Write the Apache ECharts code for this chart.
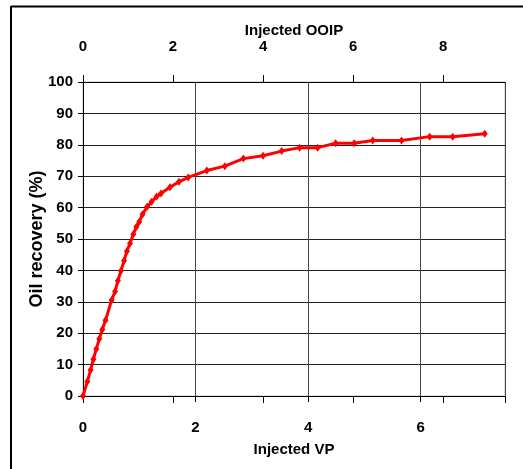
<!DOCTYPE html>
<html>
<head>
<meta charset="utf-8">
<script src="https://cdn.jsdelivr.net/npm/echarts@6/dist/echarts.min.js"></script>
<style>
  html, body { margin: 0; padding: 0; background: #fff; }
  #chart { width: 523px; height: 469px; }
</style>
</head>
<body>
<div id="chart"></div>
<script>
// Injected pore volumes (VP) and cumulative oil recovery (%)
const injectedVP = [0, 0.077, 0.136, 0.184, 0.237, 0.29, 0.343, 0.40, 0.51, 0.57,
  0.62, 0.675, 0.73, 0.78, 0.835, 0.894, 0.95, 1.0, 1.06, 1.14,
  1.22, 1.31, 1.385, 1.545, 1.705, 1.87, 2.2, 2.52, 2.85, 3.2,
  3.53, 3.85, 4.17, 4.49, 4.82, 5.15, 5.66, 6.16, 6.57, 7.14];
const oilRecovery = [0, 4.6, 8.3, 11.7, 15.0, 18.2, 21.2, 24.1, 30.6, 33.3,
  36.7, 39.9, 43.1, 46.1, 48.6, 51.5, 53.9, 55.5, 57.9, 60.3,
  61.9, 63.5, 64.5, 66.5, 68.2, 69.6, 71.8, 73.2, 75.6, 76.5,
  78.0, 79.1, 79.1, 80.5, 80.5, 81.4, 81.4, 82.6, 82.6, 83.5];

// Axis ranges and tick steps
const vpMax = 7.5, vpStep = 2;
const ooipPerVP = 1.25;              // secondary scale: OOIP = 1.25 x VP
const ooipMax = vpMax * ooipPerVP, ooipStep = 2;
const recMax = 100, recStep = 10;

const font = '"Liberation Sans Narrow", "Arial Narrow", "Liberation Sans", Arial, sans-serif';
const labelStyle = { color: '#000', fontFamily: font, fontWeight: 'bold', fontSize: 15 };

const chart = echarts.init(document.getElementById('chart'));
chart.setOption({
  animation: false,
  backgroundColor: '#fff',
  grid: { left: 83, top: 82, right: 18, bottom: 73, show: true, borderColor: '#c0c0c0', borderWidth: 1 },
  xAxis: [
    {
      type: 'value', position: 'bottom', min: 0, max: vpMax, interval: vpStep,
      name: 'Injected VP', nameLocation: 'middle', nameGap: 46, nameMoveOverlap: false,
      nameTextStyle: labelStyle,
      axisLine: { show: true, onZero: false, lineStyle: { color: '#000', width: 1 } },
      axisTick: { show: true, length: 6, lineStyle: { color: '#000' } },
      axisLabel: Object.assign({ margin: 24, showMaxLabel: false }, labelStyle),
      splitLine: { show: true, lineStyle: { color: '#444', width: 1 } }
    },
    {
      type: 'value', position: 'top', min: 0, max: ooipMax, interval: ooipStep,
      name: 'Injected OOIP', nameLocation: 'middle', nameGap: 44, nameMoveOverlap: false,
      nameTextStyle: labelStyle,
      axisLine: { show: true, onZero: false, lineStyle: { color: '#000', width: 1 } },
      axisTick: { show: true, length: 7, lineStyle: { color: '#000' } },
      axisLabel: Object.assign({ margin: 28, showMaxLabel: false }, labelStyle),
      splitLine: { show: false }
    },
    {
      // inward half of the crossing ticks on the top axis
      type: 'value', position: 'top', min: 0, max: ooipMax, interval: ooipStep,
      axisLine: { show: false },
      axisTick: { show: true, inside: true, length: 7, lineStyle: { color: '#000' } },
      axisLabel: { show: false },
      splitLine: { show: false }
    }
  ],
  yAxis: {
    type: 'value', min: 0, max: recMax, interval: recStep,
    name: 'Oil recovery (%)', nameLocation: 'middle', nameGap: 37, nameRotate: 90, nameMoveOverlap: false,
    nameTextStyle: Object.assign({}, labelStyle, { fontFamily: '"Liberation Sans", Arial, sans-serif', fontSize: 18 }),
    axisLine: { show: true, onZero: false, lineStyle: { color: '#000', width: 1 } },
    axisTick: { show: true, length: 5, lineStyle: { color: '#000' } },
    axisLabel: Object.assign({ margin: 10 }, labelStyle),
    splitLine: { show: true, lineStyle: { color: '#222', width: 1 } }
  },
  graphic: [
    { type: 'line', shape: { x1: 11, y1: 6.5, x2: 523, y2: 6.5 }, style: { stroke: '#000', lineWidth: 2 }, silent: true },
    { type: 'line', shape: { x1: 11, y1: 6, x2: 11, y2: 469 }, style: { stroke: '#000', lineWidth: 2 }, silent: true }
  ],
  series: [{
    type: 'line', xAxisIndex: 0,
    data: injectedVP.map((v, i) => [v, oilRecovery[i]]),
    symbol: 'diamond', symbolSize: [6, 8], showSymbol: true,
    itemStyle: { color: '#ff0000' },
    lineStyle: { color: '#ff0000', width: 3 }
  }]
});
</script>
</body>
</html>
